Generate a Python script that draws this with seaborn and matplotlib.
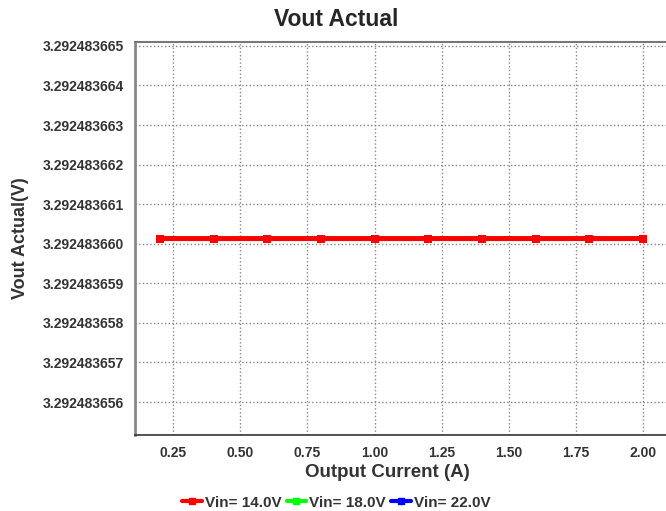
import numpy as np
import pandas as pd
import seaborn as sns
import matplotlib.pyplot as plt
from matplotlib import ticker
from matplotlib.lines import Line2D

# data
current = [0.2, 0.4, 0.6, 0.8, 1.0, 1.2, 1.4, 1.6, 1.8, 2.0]
vout_14 = [3.29248366013] * 10
vout_18 = [3.29248366015] * 10
vout_22 = [3.29248366015] * 10
series_names = ['Vin= 14.0V', 'Vin= 18.0V', 'Vin= 22.0V']
series_colors = ['#ff0000', '#00ff00', '#0000ff']
y_ticks = [3.292483656, 3.292483657, 3.292483658, 3.292483659, 3.292483660,
           3.292483661, 3.292483662, 3.292483663, 3.292483664, 3.292483665]
x_ticks = [0.25, 0.50, 0.75, 1.00, 1.25, 1.50, 1.75, 2.00]

df = pd.DataFrame({
    'current': current * 3,
    'vout': vout_14 + vout_18 + vout_22,
    'series': [n for n in series_names for _ in current],
})

sns.set_style('white')
plt.rcParams['font.family'] = ['Liberation Sans', 'DejaVu Sans']
plt.rcParams['font.weight'] = 'bold'

fig = plt.figure(figsize=(6.66, 5.11), dpi=100)
ax = fig.add_axes([0.203, 0.149, 0.797, 0.769])

# draw blue, green, red so red ends up on top
for name, color in reversed(list(zip(series_names, series_colors))):
    sub = df[df['series'] == name]
    top = name == series_names[0]
    sns.lineplot(data=sub, x='current', y='vout', ax=ax, color=color,
                 linewidth=3.6 if top else 2.4, marker='s',
                 markersize=6 if top else 3, markeredgewidth=0,
                 legend=False, snap=False)

ax.set_xlim(0.108, 2.086)
ax.set_ylim(3.29248365517, 3.2924836651)
ax.xaxis.set_major_locator(ticker.FixedLocator(x_ticks))
ax.xaxis.set_major_formatter(ticker.FormatStrFormatter('%.2f'))
ax.yaxis.set_major_locator(ticker.FixedLocator(y_ticks))
ax.yaxis.set_major_formatter(ticker.FormatStrFormatter('%.9f'))
ax.tick_params(length=0, labelsize=10, labelcolor='#333333', pad=8)
for lab in ax.get_xticklabels() + ax.get_yticklabels():
    lab.set_fontweight('bold')

ax.grid(True, linestyle=':', color='#888888', linewidth=1)
ax.spines['right'].set_visible(False)
ax.spines['left'].set_color('#888888')
ax.spines['left'].set_linewidth(2)
ax.spines['top'].set_color('#777777')
ax.spines['top'].set_linewidth(1.5)
ax.spines['bottom'].set_color('#333333')
ax.spines['bottom'].set_linewidth(1.2)

ax.set_xlabel('Output Current (A)', fontsize=13.5, fontweight='bold', color='#333333', labelpad=6)
ax.xaxis.set_label_coords(0.476, -0.075)
ax.set_ylabel('Vout Actual(V)', fontsize=13, fontweight='bold', color='#333333', labelpad=10)
fig.text(0.505, 0.961, 'Vout Actual', ha='center', va='center', fontsize=16.5, fontweight='bold')

handles = [Line2D([], [], color=c, linewidth=3, marker='s', markersize=5) for c in series_colors]
fig.legend(handles, series_names, loc='center', bbox_to_anchor=(0.505, 0.016), ncol=3,
           frameon=False, handlelength=1.3, handletextpad=0.2, columnspacing=0.3,
           prop={'size': 11, 'weight': 'bold'}, labelcolor='#333333')

fig.savefig('out.png', dpi=100)
